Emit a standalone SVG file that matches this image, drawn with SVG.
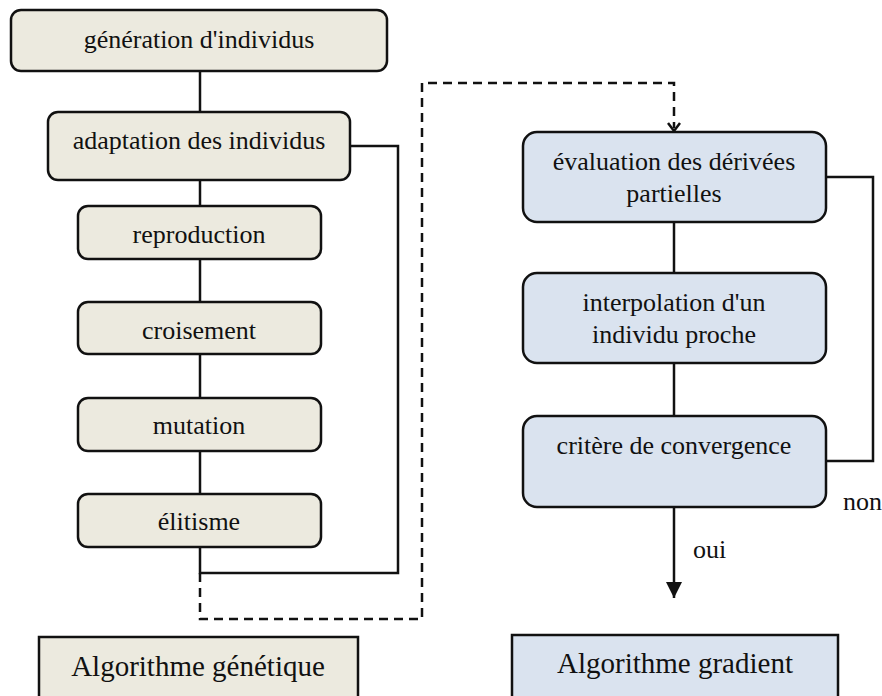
<svg xmlns="http://www.w3.org/2000/svg" width="882" height="696" viewBox="0 0 882 696">
<style>
text{fill:#111}
.t{font-size:26px;text-anchor:middle}
.lab{font-size:29px;text-anchor:middle}
.sm{font-size:26px}
.bg{fill:#ECEADF;stroke:#111;stroke-width:2.5}
.bb{fill:#DAE3EF;stroke:#111;stroke-width:2.5}
.c{fill:none;stroke:#111;stroke-width:2.5}
.d{fill:none;stroke:#111;stroke-width:2.5;stroke-dasharray:9 6}
</style>
<defs>
<marker id="tri" markerWidth="16" markerHeight="16" viewBox="0 0 16 16" refX="16" refY="8" orient="auto" markerUnits="userSpaceOnUse">
<path d="M0,0 L16,8 L0,16 Z" fill="#111"/>
</marker>
</defs>
<g id="connectors">
<path class="c" d="M200,71 V112"/>
<path class="c" d="M200,180 V206"/>
<path class="c" d="M200,259 V302"/>
<path class="c" d="M200,354 V398"/>
<path class="c" d="M200,451 V494"/>
<path class="c" d="M200,547 V573 H398 V146 H350"/>
<path class="d" d="M200,573 V619 H422 V83 H674 V128"/>
<path class="c" d="M668,123 L674,131 L680,123"/>
<path class="c" d="M674,222 V273"/>
<path class="c" d="M674,363 V416"/>
<path class="c" d="M674,507 V598" marker-end="url(#tri)"/>
<path class="c" d="M826,177 H873 V461 H826"/>
</g>
<g font-family="Liberation Serif, Times New Roman, serif">
<g id="n-generation"><rect class="bg" x="11" y="10" width="376" height="61" rx="10"/><text class="t" x="199" y="48">génération d'individus</text></g>
<g id="n-adaptation"><rect class="bg" x="48" y="112" width="302" height="68" rx="10"/><text class="t" x="199" y="149">adaptation des individus</text></g>
<g id="n-reproduction"><rect class="bg" x="78" y="206" width="243" height="53" rx="10"/><text class="t" x="199" y="243">reproduction</text></g>
<g id="n-croisement"><rect class="bg" x="78" y="302" width="243" height="52" rx="10"/><text class="t" x="199" y="339">croisement</text></g>
<g id="n-mutation"><rect class="bg" x="78" y="398" width="243" height="53" rx="10"/><text class="t" x="199" y="434">mutation</text></g>
<g id="n-elitisme"><rect class="bg" x="78" y="494" width="243" height="53" rx="10"/><text class="t" x="199" y="530">élitisme</text></g>
<g id="n-algo-gen"><rect class="bg" x="39" y="637" width="319" height="70"/><text class="lab" x="198" y="676">Algorithme génétique</text></g>
<g id="n-evaluation"><rect class="bb" x="523" y="132" width="303" height="90" rx="14"/><text class="t" x="674" y="170">évaluation des dérivées</text><text class="t" x="674" y="202">partielles</text></g>
<g id="n-interpolation"><rect class="bb" x="523" y="273" width="303" height="90" rx="14"/><text class="t" x="674" y="311">interpolation d'un</text><text class="t" x="674" y="343">individu proche</text></g>
<g id="n-critere"><rect class="bb" x="523" y="416" width="303" height="91" rx="14"/><text class="t" x="674" y="454">critère de convergence</text></g>
<g id="n-algo-grad"><rect class="bb" x="512" y="635" width="326" height="70"/><text class="lab" x="675" y="673">Algorithme gradient</text></g>
<text class="sm" x="843" y="510">non</text>
<text class="sm" x="693" y="558">oui</text>
</g>
</svg>
